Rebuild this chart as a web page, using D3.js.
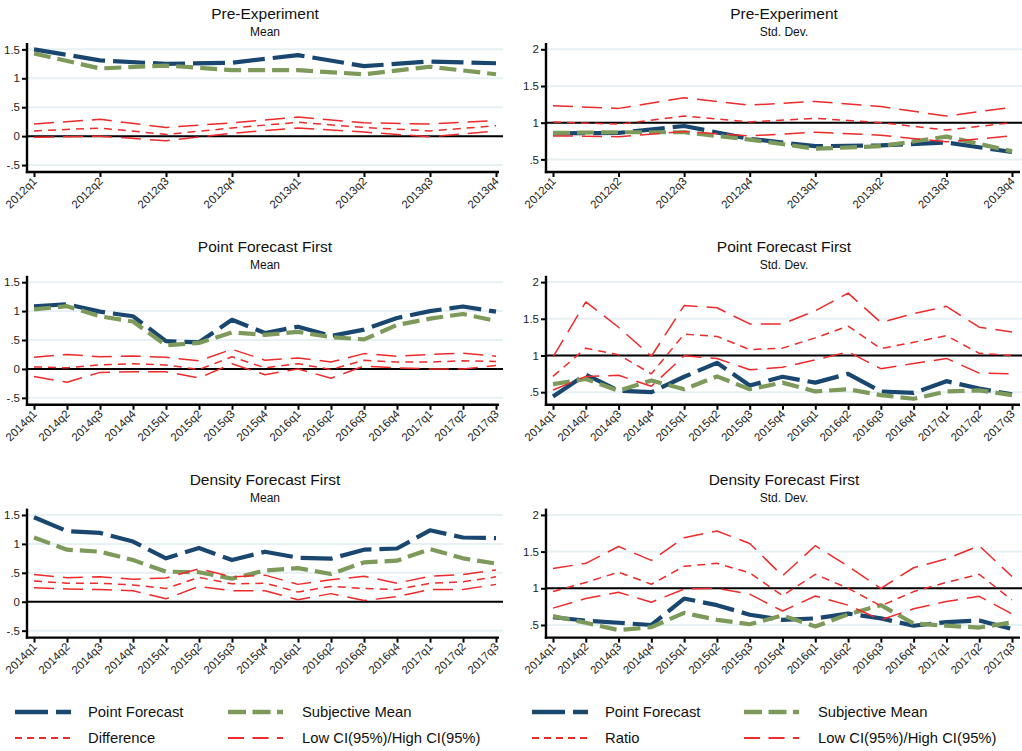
<!DOCTYPE html>
<html>
<head>
<meta charset="utf-8">
<script src="https://cdn.jsdelivr.net/npm/d3@7"></script>
<style>
  html, body { margin: 0; padding: 0; background: #ffffff; }
  svg { display: block; font-family: "Liberation Sans", Arial, Helvetica, sans-serif; }
</style>
</head>
<body>
<svg id="chart" width="1022" height="751"></svg>
<script>
// ---------------- DATA ----------------
const quartersPre = ["2012q1","2012q2","2012q3","2012q4","2013q1","2013q2","2013q3","2013q4"];
const quartersPost = ["2014q1","2014q2","2014q3","2014q4","2015q1","2015q2","2015q3","2015q4",
                      "2016q1","2016q2","2016q3","2016q4","2017q1","2017q2","2017q3"];

const meanTickValues = [-0.5, 0, 0.5, 1, 1.5];
const meanTickLabels = ["-.5", "0", ".5", "1", "1.5"];
const sdTickValues = [0.5, 1, 1.5, 2];
const sdTickLabels = [".5", "1", "1.5", "2"];

// Pre-Experiment, Mean
const preMeanPoint = [1.50, 1.31, 1.25, 1.27, 1.40, 1.21, 1.29, 1.26];
const preMeanSubj  = [1.43, 1.17, 1.22, 1.14, 1.14, 1.07, 1.20, 1.07];
const preMeanDiff  = [0.09, 0.14, 0.03, 0.14, 0.24, 0.15, 0.09, 0.18];
const preMeanHigh  = [0.21, 0.29, 0.15, 0.23, 0.33, 0.23, 0.21, 0.27];
const preMeanLow   = [-0.02, 0.00, -0.08, 0.05, 0.14, 0.07, -0.01, 0.09];

// Pre-Experiment, Std. Dev.
const preSdPoint = [0.855, 0.86, 0.955, 0.78, 0.68, 0.69, 0.73, 0.60];
const preSdSubj  = [0.86, 0.87, 0.87, 0.77, 0.645, 0.68, 0.81, 0.61];
const preSdRatio = [1.01, 0.98, 1.09, 1.01, 1.06, 1.00, 0.90, 1.00];
const preSdHigh  = [1.23, 1.195, 1.34, 1.24, 1.29, 1.22, 1.09, 1.21];
const preSdLow   = [0.82, 0.81, 0.88, 0.82, 0.87, 0.83, 0.74, 0.82];

// Point Forecast First, Mean
const pfMeanPoint = [1.08, 1.12, 0.99, 0.91, 0.48, 0.46, 0.85, 0.62, 0.73, 0.57, 0.68, 0.88, 1.00, 1.08, 0.99];
const pfMeanSubj  = [1.03, 1.085, 0.91, 0.82, 0.41, 0.45, 0.63, 0.59, 0.64, 0.55, 0.51, 0.76, 0.87, 0.95, 0.83];
const pfMeanDiff  = [0.035, 0.02, 0.07, 0.09, 0.07, -0.01, 0.21, 0.02, 0.09, -0.01, 0.15, 0.12, 0.12, 0.14, 0.13];
const pfMeanHigh  = [0.20, 0.25, 0.21, 0.225, 0.20, 0.14, 0.34, 0.15, 0.19, 0.12, 0.265, 0.22, 0.25, 0.27, 0.22];
const pfMeanLow   = [-0.13, -0.23, -0.06, -0.05, -0.05, -0.155, 0.09, -0.10, 0.00, -0.16, 0.05, 0.02, 0.00, 0.00, 0.06];

// Point Forecast First, Std. Dev.
const pfSdPoint = [0.44, 0.74, 0.52, 0.50, 0.71, 0.90, 0.59, 0.71, 0.63, 0.75, 0.51, 0.49, 0.65, 0.55, 0.47];
const pfSdSubj  = [0.61, 0.68, 0.52, 0.66, 0.54, 0.715, 0.54, 0.63, 0.51, 0.54, 0.46, 0.41, 0.51, 0.525, 0.46];
const pfSdRatio = [0.715, 1.10, 1.01, 0.75, 1.29, 1.26, 1.08, 1.10, 1.24, 1.40, 1.095, 1.18, 1.27, 1.03, 1.00];
const pfSdHigh  = [0.98, 1.73, 1.385, 0.99, 1.68, 1.65, 1.43, 1.43, 1.61, 1.85, 1.45, 1.57, 1.67, 1.385, 1.32];
const pfSdLow   = [0.53, 0.715, 0.73, 0.58, 0.995, 0.96, 0.805, 0.84, 0.94, 1.05, 0.82, 0.89, 0.96, 0.76, 0.75];

// Density Forecast First, Mean
const dfMeanPoint = [1.46, 1.22, 1.19, 1.04, 0.75, 0.93, 0.72, 0.865, 0.76, 0.745, 0.90, 0.92, 1.235, 1.11, 1.10];
const dfMeanSubj  = [1.11, 0.90, 0.865, 0.72, 0.52, 0.51, 0.40, 0.54, 0.58, 0.48, 0.68, 0.71, 0.91, 0.75, 0.66];
const dfMeanDiff  = [0.36, 0.32, 0.32, 0.29, 0.23, 0.42, 0.31, 0.32, 0.17, 0.265, 0.23, 0.21, 0.32, 0.345, 0.43];
const dfMeanHigh  = [0.47, 0.415, 0.43, 0.39, 0.41, 0.57, 0.43, 0.46, 0.30, 0.38, 0.44, 0.32, 0.44, 0.47, 0.55];
const dfMeanLow   = [0.24, 0.22, 0.21, 0.19, 0.05, 0.265, 0.19, 0.19, 0.035, 0.14, 0.02, 0.09, 0.21, 0.21, 0.30];

// Density Forecast First, Std. Dev.
const dfSdPoint = [0.605, 0.56, 0.53, 0.50, 0.86, 0.77, 0.64, 0.57, 0.59, 0.655, 0.59, 0.49, 0.54, 0.56, 0.445];
const dfSdSubj  = [0.62, 0.53, 0.43, 0.47, 0.665, 0.57, 0.51, 0.63, 0.48, 0.645, 0.77, 0.52, 0.49, 0.465, 0.535];
const dfSdRatio = [0.955, 1.08, 1.22, 1.055, 1.30, 1.34, 1.21, 0.90, 1.19, 1.00, 0.76, 0.955, 1.08, 1.19, 0.84];
const dfSdHigh  = [1.27, 1.34, 1.57, 1.38, 1.69, 1.78, 1.61, 1.17, 1.58, 1.30, 1.00, 1.28, 1.40, 1.58, 1.16];
const dfSdLow   = [0.73, 0.86, 0.945, 0.81, 0.99, 1.00, 0.92, 0.69, 0.895, 0.77, 0.57, 0.72, 0.82, 0.89, 0.65];

const legendLeftLabels  = ["Point Forecast", "Subjective Mean", "Difference", "Low CI(95%)/High CI(95%)"];
const legendRightLabels = ["Point Forecast", "Subjective Mean", "Ratio", "Low CI(95%)/High CI(95%)"];

// ---------------- STYLE ----------------
const C_BLUE = "#1a476f";
const C_GREEN = "#7d9a5b";
const C_RED = "#ee2a2a";
const C_GRID = "#e7f0f2";

const styles = {
  point: { color: C_BLUE,  width: 4.2, dash: "32 8" },
  subj:  { color: C_GREEN, width: 4.2, dash: "17 7" },
  diff:  { color: C_RED,   width: 1.5, dash: "8 6" },
  ci:    { color: C_RED,   width: 1.5, dash: "20 9" }
};

const panels = [
  { title: "Pre-Experiment", sub: "Mean", col: 0, row: 0, q: quartersPre, kind: "mean",
    point: preMeanPoint, subj: preMeanSubj, diff: preMeanDiff, high: preMeanHigh, low: preMeanLow },
  { title: "Pre-Experiment", sub: "Std. Dev.", col: 1, row: 0, q: quartersPre, kind: "sd",
    point: preSdPoint, subj: preSdSubj, diff: preSdRatio, high: preSdHigh, low: preSdLow },
  { title: "Point Forecast First", sub: "Mean", col: 0, row: 1, q: quartersPost, kind: "mean",
    point: pfMeanPoint, subj: pfMeanSubj, diff: pfMeanDiff, high: pfMeanHigh, low: pfMeanLow },
  { title: "Point Forecast First", sub: "Std. Dev.", col: 1, row: 1, q: quartersPost, kind: "sd",
    point: pfSdPoint, subj: pfSdSubj, diff: pfSdRatio, high: pfSdHigh, low: pfSdLow },
  { title: "Density Forecast First", sub: "Mean", col: 0, row: 2, q: quartersPost, kind: "mean",
    point: dfMeanPoint, subj: dfMeanSubj, diff: dfMeanDiff, high: dfMeanHigh, low: dfMeanLow },
  { title: "Density Forecast First", sub: "Std. Dev.", col: 1, row: 2, q: quartersPost, kind: "sd",
    point: dfSdPoint, subj: dfSdSubj, diff: dfSdRatio, high: dfSdHigh, low: dfSdLow }
];

// ---------------- LAYOUT ----------------
const svg = d3.select("#chart");
const ROW_STEP = 232.8;
const colGeom = [
  { axisX: 27,  dataX0: 34,  dataX1: 496,  gridX1: 503,  axisEnd: 499,  titleX: 265 },
  { axisX: 546, dataX0: 553, dataX1: 1012, gridX1: 1022, axisEnd: 1020, titleX: 784 }
];
const PLOT_TOP = 43, PLOT_BOTTOM = 172;
const domains = { mean: [-0.62, 1.61], sd: [0.328, 2.086] };

panels.forEach(p => {
  const g = colGeom[p.col];
  const off = p.row * ROW_STEP;
  const top = PLOT_TOP + off, bottom = PLOT_BOTTOM + off;
  const x = d3.scalePoint().domain(p.q).range([g.dataX0, g.dataX1]);
  const y = d3.scaleLinear().domain(domains[p.kind]).range([bottom, top]);
  const tickVals = p.kind === "mean" ? meanTickValues : sdTickValues;
  const tickLabs = p.kind === "mean" ? meanTickLabels : sdTickLabels;
  const refVal = p.kind === "mean" ? 0 : 1;

  const pg = svg.append("g");

  // titles
  pg.append("text").attr("x", g.titleX).attr("y", 19 + off)
    .attr("text-anchor", "middle").attr("font-size", 15.5).attr("fill", "#111")
    .text(p.title);
  pg.append("text").attr("x", g.titleX).attr("y", 36 + off)
    .attr("text-anchor", "middle").attr("font-size", 12).attr("fill", "#111")
    .text(p.sub);

  // gridlines
  pg.append("g").selectAll("line").data(tickVals).join("line")
    .attr("x1", g.axisX).attr("x2", g.gridX1)
    .attr("y1", d => y(d)).attr("y2", d => y(d))
    .attr("stroke", C_GRID).attr("stroke-width", 2);

  // reference line
  pg.append("line")
    .attr("x1", g.axisX).attr("x2", g.gridX1)
    .attr("y1", y(refVal)).attr("y2", y(refVal))
    .attr("stroke", "#000").attr("stroke-width", 2);

  // series
  const line = d3.line().x((d, i) => x(p.q[i])).y(d => y(d));
  const series = [
    { data: p.point, st: styles.point },
    { data: p.subj,  st: styles.subj },
    { data: p.diff,  st: styles.diff },
    { data: p.low,   st: styles.ci },
    { data: p.high,  st: styles.ci }
  ];
  series.forEach(s => {
    pg.append("path").datum(s.data)
      .attr("d", line)
      .attr("fill", "none")
      .attr("stroke", s.st.color)
      .attr("stroke-width", s.st.width)
      .attr("stroke-dasharray", s.st.dash)
      .attr("stroke-linejoin", "round");
  });

  // y axis
  const yAxis = d3.axisLeft(y).tickValues(tickVals)
    .tickFormat((d, i) => tickLabs[i]).tickSize(5).tickSizeOuter(0).tickPadding(2);
  const ya = pg.append("g").attr("transform", `translate(${g.axisX},0)`).call(yAxis);
  ya.select(".domain").remove();
  ya.selectAll(".tick line").attr("stroke", "#000").attr("stroke-width", 2);
  ya.selectAll(".tick text").attr("font-size", 11.5).attr("fill", "#222")
    .attr("font-family", "'Liberation Sans', Arial, sans-serif");
  pg.append("line").attr("x1", g.axisX).attr("x2", g.axisX)
    .attr("y1", top).attr("y2", bottom + 1.2)
    .attr("stroke", "#000").attr("stroke-width", 2.4);

  // x axis
  const xAxis = d3.axisBottom(x).tickSize(5).tickSizeOuter(0).tickPadding(2);
  const xa = pg.append("g").attr("transform", `translate(0,${bottom})`).call(xAxis);
  xa.select(".domain").remove();
  xa.selectAll(".tick line").attr("stroke", "#000").attr("stroke-width", 2);
  xa.selectAll(".tick text")
    .attr("font-size", 11.5).attr("fill", "#222")
    .attr("font-family", "'Liberation Sans', Arial, sans-serif")
    .attr("text-anchor", "end")
    .attr("dy", null)
    .attr("y", 0)
    .attr("transform", "translate(3,10) rotate(-45)");
  pg.append("line").attr("x1", g.axisX - 1.2).attr("x2", g.axisEnd)
    .attr("y1", bottom).attr("y2", bottom)
    .attr("stroke", "#000").attr("stroke-width", 2.4);
});

// ---------------- LEGENDS ----------------
function drawLegend(x0s, labels) {
  const keys = ["point", "subj", "diff", "ci"];
  const rowsY = [712, 738];
  keys.forEach((k, i) => {
    const col = i % 2, row = Math.floor(i / 2);
    const xs = x0s[col];
    const yy = rowsY[row];
    const st = styles[k];
    svg.append("line")
      .attr("x1", xs.sw0).attr("x2", xs.sw1).attr("y1", yy).attr("y2", yy)
      .attr("stroke", st.color).attr("stroke-width", k === "point" || k === "subj" ? 4.6 : 2)
      .attr("stroke-dasharray", k === "point" ? "33 8" : k === "subj" ? "18 6.5" : k === "diff" ? "7 5" : "16 8.5");
    svg.append("text").attr("x", xs.tx).attr("y", yy + 5)
      .attr("font-size", 14.8).attr("fill", "#111").text(labels[i]);
  });
}
drawLegend([{ sw0: 15, sw1: 71, tx: 88 }, { sw0: 228, sw1: 283, tx: 302 }], legendLeftLabels);
drawLegend([{ sw0: 532, sw1: 588, tx: 605 }, { sw0: 744, sw1: 799, tx: 818 }], legendRightLabels);
</script>
</body>
</html>
